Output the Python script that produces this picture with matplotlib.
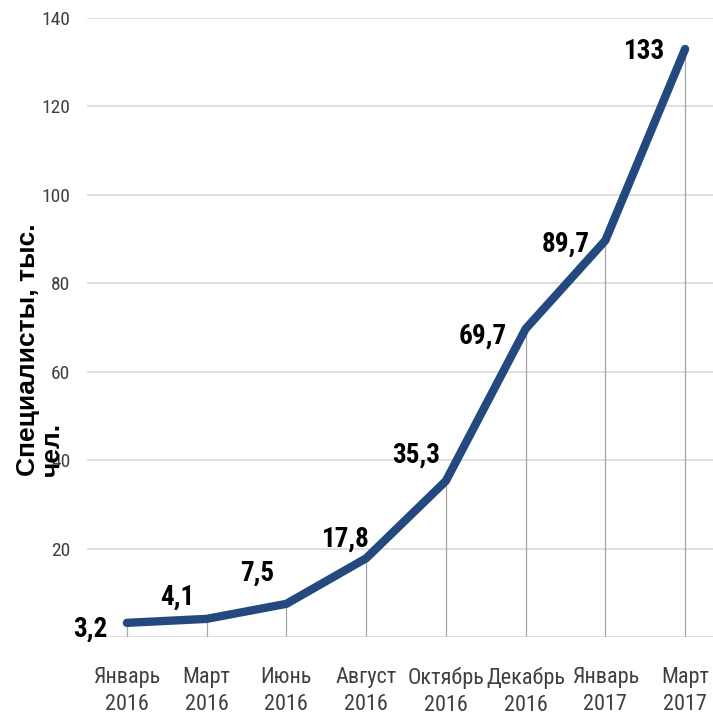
import matplotlib
matplotlib.use("Agg")
import matplotlib.pyplot as plt
from matplotlib import font_manager

months = ["Январь\n2016", "Март\n2016", "Июнь\n2016", "Август\n2016",
          "Октябрь\n2016", "Декабрь\n2016", "Январь\n2017", "Март\n2017"]
specialists = [3.2, 4.1, 7.5, 17.8, 35.3, 69.7, 89.7, 133]
value_labels = ["3,2", "4,1", "7,5", "17,8", "35,3", "69,7", "89,7", "133"]
y_ticks = [20, 40, 60, 80, 100, 120, 140]

# label offsets (pixels) relative to each point
label_offsets = [(-19, -6), (-12, 22), (-12, 31), (4, 19),
                 (-6, 26), (-19, -7), (-16, -4), (-20, -3)]

available = {f.name for f in font_manager.fontManager.ttflist}
narrow = "Liberation Sans"
for cand in ["Liberation Sans Narrow", "Roboto Condensed", "Open Sans Condensed",
             "DejaVu Sans Condensed"]:
    if cand in available:
        narrow = cand
        break

fig = plt.figure(figsize=(7.13, 7.17), dpi=100)
ax = fig.add_axes([87 / 713, 1 - 637 / 717, 638 / 713, (637 - 18) / 717])
x = list(range(len(months)))

ax.set_xlim(-0.5, len(months) - 0.5)
ax.set_ylim(0, 140)

for yv in [0] + y_ticks:
    ax.axhline(yv, color="#d9d9d9", lw=1.2, zorder=1)

ax.vlines(x, 0, specialists, color="#a6a6a6", lw=0.9, zorder=2)
ax.plot(x, specialists, color="#24497e", lw=6, solid_capstyle="round",
        solid_joinstyle="round", zorder=3)

for xi, yi, txt, (dx, dy) in zip(x, specialists, value_labels, label_offsets):
    ax.annotate(txt, (xi, yi), xytext=(dx, dy), textcoords="offset pixels",
                ha="right", va="center", fontsize=19.5, fontweight="bold",
                family=narrow, color="#000000", zorder=4)

ax.set_xticks(x)
ax.set_xticklabels(months, fontsize=16, family=narrow, color="#404040",
                   linespacing=1.4)
ax.set_yticks(y_ticks)
ax.set_yticklabels([str(v) for v in y_ticks], fontsize=14, family=narrow,
                   color="#404040")
ax.tick_params(axis="both", length=0)
ax.tick_params(axis="x", pad=21.5)
ax.tick_params(axis="y", pad=12)
for s in ax.spines.values():
    s.set_visible(False)

fig.text(40 / 713, 1 - 476 / 717, "Специалисты, тыс.\nчел.", rotation=90,
         ha="center", va="bottom", multialignment="left", fontsize=19,
         fontweight="bold", family="Liberation Sans", color="#000000",
         linespacing=0.95)

fig.savefig("out.png", dpi=100)
